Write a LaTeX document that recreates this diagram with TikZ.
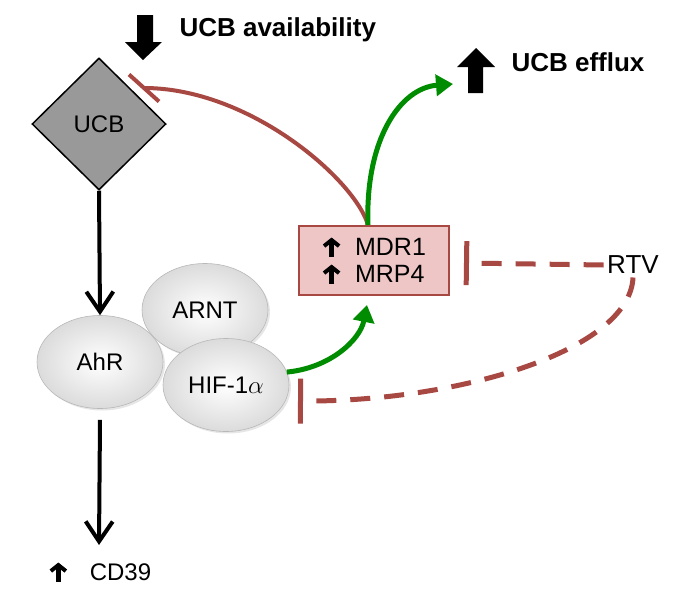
\documentclass[tikz,border=0pt]{standalone}
\usepackage{fontspec}
\setmainfont{Liberation Sans}
\usetikzlibrary{arrows.meta,shapes.geometric,shadows}
\definecolor{inhred}{RGB}{168,72,66}
\definecolor{boxpink}{RGB}{238,198,198}
\definecolor{actgreen}{RGB}{0,140,0}
\newcommand{\upar}{\tikz[baseline=0pt]\draw[line width=4.5pt,
    -{Straight Barb[length=6pt,width=15pt,line width=4pt]}] (0pt,-1pt) -- (0pt,18pt);}

\begin{document}
\begin{tikzpicture}[x=1pt,y=-1pt,
    lbl/.style={font=\fontsize{24}{27}\selectfont},
    headlbl/.style={font=\fontsize{26}{30}\selectfont\bfseries},
    blob/.style={ellipse,draw=black!28,line width=0.6pt,inner sep=0pt,
        minimum width=126pt,minimum height=93pt,shading=radial,
        inner color=white,outer color=black!14,
        drop shadow={opacity=0.2,shadow xshift=2pt,shadow yshift=-2pt},lbl},
    act/.style={draw=black,line width=4pt,
        -{Straight Barb[length=20pt,width=27pt,line width=4pt]}},
    grn/.style={draw=actgreen,line width=5pt,-{Triangle[length=17pt,width=21pt]}},
    inhibit/.style={draw=inhred,line width=4pt},
    dashinh/.style={draw=inhred,line width=5pt,dash pattern=on 20pt off 14pt}]
\useasboundingbox (0,0) rectangle (681,600);

% big arrows and headings
\fill (137,15) -- (153,15) -- (153,42) -- (162,42) -- (143,60) -- (125,42) -- (137,42) -- cycle;
\fill (468,93) -- (483,93) -- (483,67) -- (495,67) -- (476,48) -- (457,67) -- (468,67) -- cycle;
\node[headlbl,anchor=west] (avail) at (176,30) {UCB availability};
\node[headlbl,anchor=west] (efflux) at (508,62) {UCB efflux};

% nodes
\node[diamond,draw,fill=black!40,line width=1.5pt,aspect=1,inner sep=0pt,
    minimum width=134pt,minimum height=132pt,lbl] (ucb) at (99,124) {UCB};
\node[draw=inhred,fill=boxpink,line width=2pt,minimum width=150pt,minimum height=69pt,
    align=left,font=\fontsize{25}{27}\selectfont] (mdr) at (374,260.5)
    {\upar\hspace{14pt}MDR1\\\upar\hspace{14pt}MRP4};
\node[font=\fontsize{26}{30}\selectfont] (rtv) at (633,265) {RTV};
\foreach \n/\x/\y/\t in {arnt/205/310/ARNT,ahr/100/362/AhR,hif/226/385/HIF-1$\alpha$} {
    \node[blob] (\n) at (\x,\y) {\t};
}
\node[lbl] (cd39) at (100,572) {\upar\hspace{22pt}CD39};

\coordinate (ucbbar) at (144,88);
\coordinate (mdrbar) at (464,263);
\coordinate (hifbar) at (298,401);
\coordinate (efftip) at (453,84);
\coordinate (cdtip) at (99,545);

% connectors
\draw[act] (ucb.south) -- (ahr.north);
\draw[act] ([yshift=-11pt]ahr.south) -- (cdtip);
\draw[inhibit] ([xshift=-6pt]mdr.north) .. controls (355,180) and (250,88) .. (ucbbar);
\draw[inhibit] ([shift={(-15,-13.5)}]ucbbar) -- ([shift={(15,13.5)}]ucbbar);
\draw[grn] ([xshift=-6pt]mdr.north) .. controls (365,140) and (400,88) .. (efftip);
\draw[grn] (hif.12) .. controls (330,368) and (360,340) .. ([xshift=-7pt,yshift=-9pt]mdr.south);
\draw[dashinh,-{Bar[width=44pt]}] (rtv.west) -- (mdrbar);
\draw[dashinh,-{Bar[width=45pt]}] (rtv.south) .. controls (630,350) and (460,402) .. (hifbar);
\end{tikzpicture}
\end{document}
